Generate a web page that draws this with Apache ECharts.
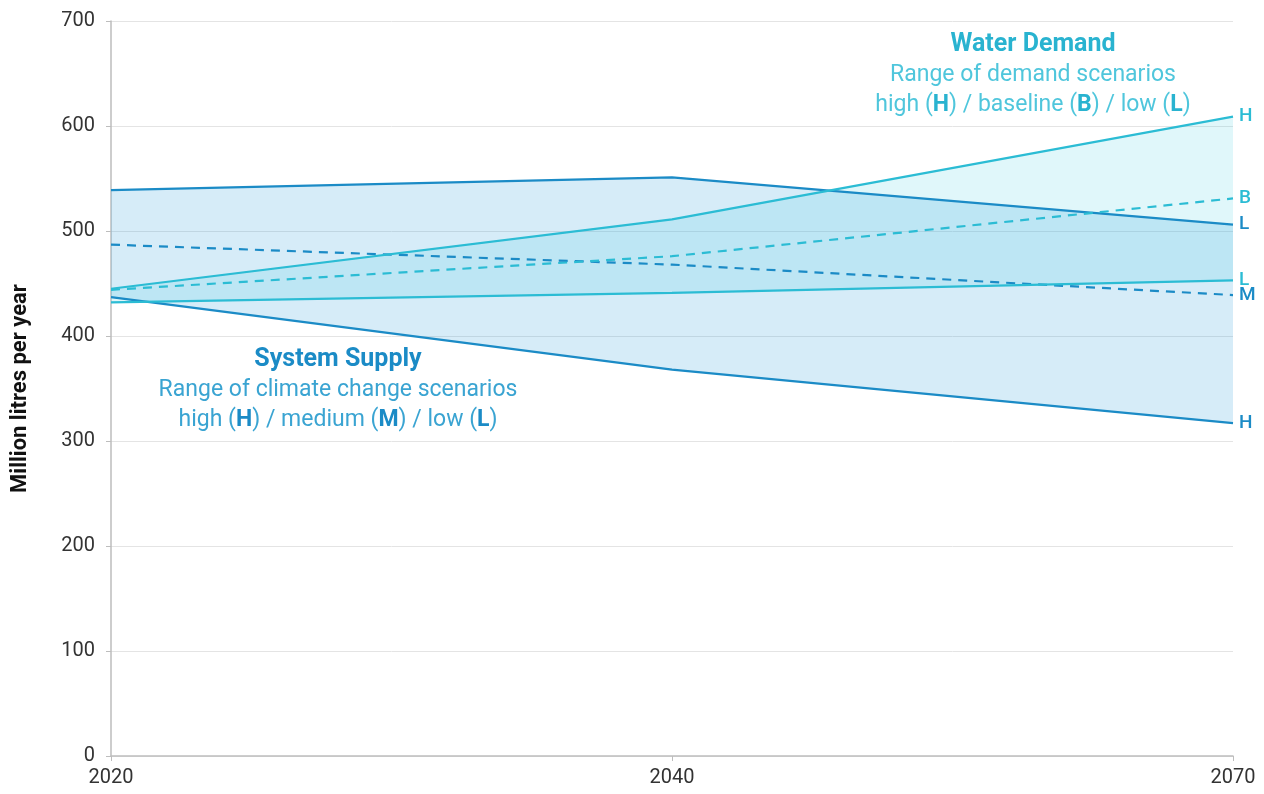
<!DOCTYPE html>
<html><head><meta charset="utf-8">
<script src="https://cdn.jsdelivr.net/npm/echarts@6/dist/echarts.min.js"></script>
<style>html,body{margin:0;padding:0;background:#fff}#c{width:1264px;height:794px}</style>
</head><body><div id="c"></div>
<script>
const years = ['2020', '2040', '2070'];
const supplyLow = [539, 551, 506];
const supplyMed = [487, 468, 439];
const supplyHigh = [437, 368, 317];
const demandHigh = [445, 511, 609];
const demandBase = [444, 476, 531];
const demandLow = [432, 441, 453];
const yTicks = [0, 100, 200, 300, 400, 500, 600, 700];

const SUP = '#1b8bc6';
const DEM = '#2bbcd4';
const FONT = 'Roboto';

function diff(a, b) { return a.map((v, i) => v - b[i]); }
function endLbl(txt, color) {
  return { show: true, formatter: txt, color: color, fontFamily: FONT, fontSize: 19, fontWeight: 500, distance: 6 };
}
function line(name, data, color, dashed, lbl) {
  return {
    name: name, type: 'line', data: data, symbol: 'none', z: 5,
    lineStyle: { color: color, width: 2.2, type: dashed ? [9, 7] : 'solid' },
    endLabel: endLbl(lbl, color), silent: true
  };
}

const chart = echarts.init(document.getElementById('c'), null, { renderer: 'canvas' });
chart.setOption({
  animation: false,
  grid: { left: 111, right: 31, top: 21, bottom: 38 },
  xAxis: {
    type: 'category', data: years, boundaryGap: false,
    axisLine: { lineStyle: { color: '#bdbdbd', width: 1.5 } },
    axisTick: { show: true, length: 5, lineStyle: { color: '#bdbdbd' } },
    axisLabel: { color: '#333', fontFamily: FONT, fontSize: 20, margin: 12 },
    splitLine: { show: false }
  },
  yAxis: {
    type: 'value', min: yTicks[0], max: yTicks[yTicks.length - 1], interval: 100,
    name: 'Million litres per year', nameLocation: 'middle', nameGap: 80,
    nameTextStyle: { color: '#111', fontFamily: FONT, fontSize: 22, fontWeight: 'bold' },
    axisLine: { show: true, lineStyle: { color: '#bdbdbd', width: 1.5 } },
    axisTick: { show: true, length: 5, lineStyle: { color: '#bdbdbd' } },
    axisLabel: { color: '#333', fontFamily: FONT, fontSize: 20, margin: 16 },
    splitLine: { lineStyle: { color: '#e4e4e4' } }
  },
  series: [
    { type: 'line', stack: 'dem', data: demandLow, symbol: 'none', lineStyle: { opacity: 0 }, silent: true, z: 1 },
    { type: 'line', stack: 'dem', data: diff(demandHigh, demandLow), symbol: 'none', lineStyle: { opacity: 0 },
      areaStyle: { color: 'rgba(60,205,225,0.23)', origin: 'start' }, silent: true, z: 1 },
    { type: 'line', stack: 'sup', data: supplyHigh, symbol: 'none', lineStyle: { opacity: 0 }, silent: true, z: 2 },
    { type: 'line', stack: 'sup', data: diff(supplyLow, supplyHigh), symbol: 'none', lineStyle: { opacity: 0 },
      areaStyle: { color: 'rgba(60,165,220,0.3)', origin: 'start' }, silent: true, z: 2 },
    line('Supply L', supplyLow, SUP, false, 'L'),
    line('Supply M', supplyMed, SUP, true, 'M'),
    line('Supply H', supplyHigh, SUP, false, 'H'),
    line('Demand H', demandHigh, DEM, false, 'H'),
    line('Demand B', demandBase, DEM, true, 'B'),
    line('Demand L', demandLow, DEM, false, 'L')
  ],
  graphic: [
    { type: 'text', left: 1033 - 250, top: 30, z: 20,
      style: { width: 500, align: 'center', textAlign: 'center', x: 250, fontFamily: FONT, lineHeight: 30,
        text: '{t|Water Demand}\n{n|Range of demand scenarios}\n{n|high (}{b|H}{n|) / baseline (}{b|B}{n|) / low (}{b|L}{n|)}',
        rich: {
          t: { fontFamily: FONT, fontSize: 25, fontWeight: 'bold', fill: '#29b3d0', lineHeight: 30 },
          n: { fontFamily: FONT, fontSize: 23, fill: '#4fc6dc', lineHeight: 30 },
          b: { fontFamily: FONT, fontSize: 23, fontWeight: 'bold', fill: '#29b3d0', lineHeight: 30 }
        } } },
    { type: 'text', left: 338 - 250, top: 345, z: 20,
      style: { width: 500, align: 'center', textAlign: 'center', x: 250, fontFamily: FONT, lineHeight: 30,
        text: '{t|System Supply}\n{n|Range of climate change scenarios}\n{n|high (}{b|H}{n|) / medium (}{b|M}{n|) / low (}{b|L}{n|)}',
        rich: {
          t: { fontFamily: FONT, fontSize: 25, fontWeight: 'bold', fill: '#1b8bc6', lineHeight: 30 },
          n: { fontFamily: FONT, fontSize: 23, fill: '#3aa4d2', lineHeight: 30 },
          b: { fontFamily: FONT, fontSize: 23, fontWeight: 'bold', fill: '#1b8bc6', lineHeight: 30 }
        } } }
  ]
});
</script></body></html>
